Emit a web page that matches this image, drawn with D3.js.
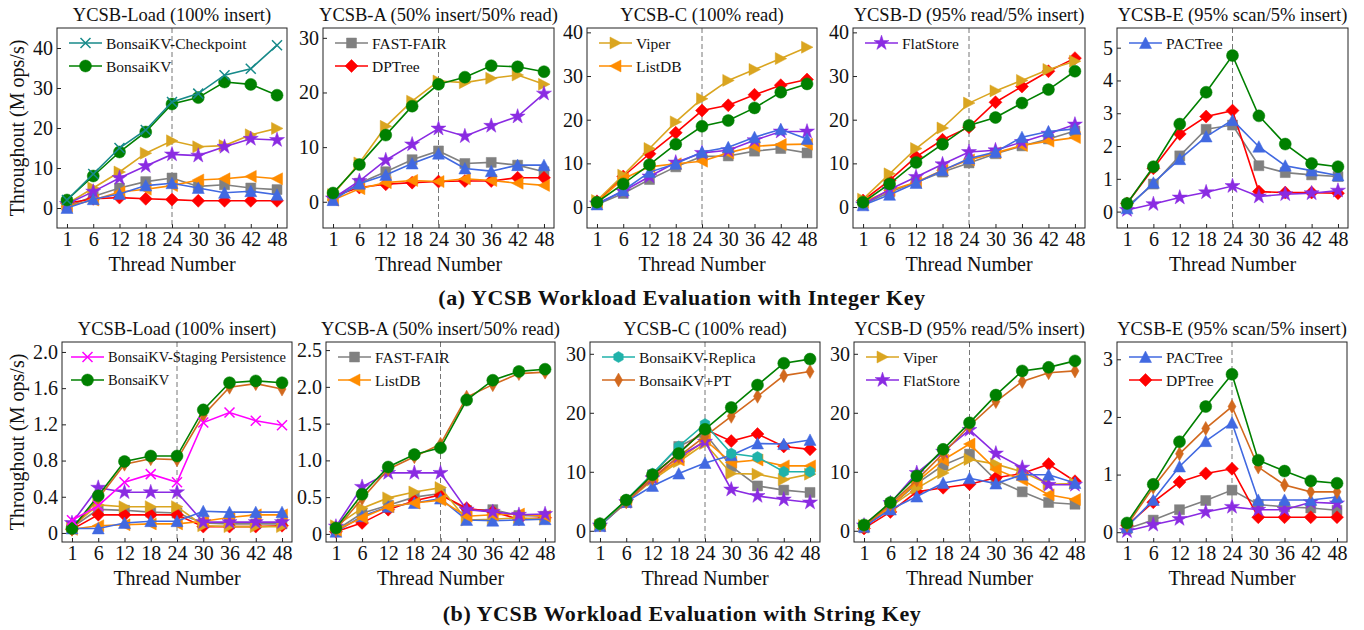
<!DOCTYPE html>
<html>
<head>
<meta charset="utf-8">
<script src="https://cdn.jsdelivr.net/npm/d3@7"></script>
<style>
  body { margin: 0; background: #fff; }
  text { font-family: "Liberation Serif", "Times New Roman", serif; fill: #111; }
</style>
</head>
<body>
<svg id="chart" width="1364" height="630"></svg>
<script>
// thread counts on the x axis
const threads = ["1", "6", "12", "18", "24", "30", "36", "42", "48"];

// (a) integer key, values in M ops/s, listed in drawing order
const intLoad = [
  ["FAST-FAIR", [0.4, 2.9, 5, 6.6, 7.5, 5.4, 5.8, 5, 4.6]],
  ["DPTree", [1.2, 2.3, 2.6, 2.3, 2.1, 1.8, 1.8, 1.8, 1.8]],
  ["Viper", [1, 5, 9, 13.7, 16.8, 15.3, 15.6, 18.3, 19.9]],
  ["ListDB", [0.4, 2, 4, 4.7, 5.6, 7, 7.3, 7.9, 7.3]],
  ["FlatStore", [1, 4.1, 7.5, 10.5, 13.4, 13.1, 15.3, 17.3, 17.0]],
  ["PACTree", [0, 2.2, 3.5, 5.6, 6.2, 5, 3.8, 4.2, 3.3]],
  ["BonsaiKV", [2, 8, 14, 19, 26, 27.6, 31.5, 30.9, 28.2]],
  ["BonsaiKV-Checkpoint", [2, 8.5, 15, 19.5, 26.5, 28.6, 33.2, 34.8, 40.7]]
];
const intA = [
  ["FAST-FAIR", [0.4, 3.4, 5.5, 7.7, 9.3, 7, 7.2, 6.7, 5.5]],
  ["DPTree", [1, 2.6, 3.2, 3.5, 3.7, 3.8, 3.8, 4.4, 4.4]],
  ["Viper", [1.3, 7.1, 13.8, 18.4, 22.1, 21.8, 22.6, 23.2, 21.5]],
  ["ListDB", [0.3, 2.4, 3.5, 3.9, 3.7, 4.2, 3.9, 3.4, 3.0]],
  ["FlatStore", [0.6, 3.8, 7.6, 10.5, 13.4, 12, 13.9, 15.6, 19.8]],
  ["PACTree", [0.3, 3.3, 4.9, 7, 8.8, 6.1, 5.6, 6.7, 6.7]],
  ["BonsaiKV", [1.6, 6.8, 12.2, 17.5, 21.5, 22.8, 24.9, 24.7, 23.8]]
];
const intC = [
  ["FAST-FAIR", [0.6, 3.1, 6.3, 9.2, 11.6, 11.7, 12.8, 13.4, 12.4]],
  ["DPTree", [1.3, 7, 12.2, 17, 22.1, 23.3, 25.7, 27.9, 29.2]],
  ["Viper", [1.5, 7.3, 13.4, 19.5, 24.8, 29, 31.5, 34, 36.6]],
  ["ListDB", [1.1, 6.5, 9.2, 9.9, 10.5, 12.4, 13.9, 14.3, 14.4]],
  ["FlatStore", [0.8, 3.6, 7, 10.2, 12.4, 13, 15.3, 17.3, 17.3]],
  ["PACTree", [0.6, 3.8, 8, 9.9, 12.6, 13.7, 16, 17.8, 15.6]],
  ["BonsaiKV", [1.1, 5.3, 9.7, 14.4, 18.5, 19.8, 22.7, 26.3, 28.2]]
];
const intD = [
  ["FAST-FAIR", [0.6, 3.4, 5.7, 8, 10.1, 12.2, 14, 15.6, 17.4]],
  ["DPTree", [1.5, 6.1, 11.5, 15.4, 18.3, 24, 27.6, 31.1, 34.1]],
  ["Viper", [1.8, 7.6, 13.4, 18.1, 23.8, 26.6, 29, 31.5, 33.4]],
  ["ListDB", [1.1, 3.8, 5.7, 8.4, 10.8, 12.4, 14.1, 15.1, 15.9]],
  ["FlatStore", [0.6, 4, 6.9, 9.8, 12.6, 13, 14.9, 16.8, 18.9]],
  ["PACTree", [0.4, 2.8, 5.5, 8.4, 11.1, 12.6, 16, 17.3, 17.9]],
  ["BonsaiKV", [1.1, 5.3, 10.2, 14.4, 18.7, 20.5, 23.8, 26.9, 31.1]]
];
const intE = [
  ["FAST-FAIR", [0.15, 0.84, 1.7, 2.51, 2.64, 1.4, 1.19, 1.12, 1.07]],
  ["DPTree", [0.25, 1.32, 2.37, 2.9, 3.08, 0.61, 0.58, 0.58, 0.56]],
  ["FlatStore", [0.05, 0.23, 0.43, 0.59, 0.78, 0.46, 0.53, 0.56, 0.64]],
  ["PACTree", [0.1, 0.88, 1.6, 2.29, 2.79, 1.98, 1.4, 1.25, 1.1]],
  ["BonsaiKV", [0.25, 1.37, 2.67, 3.64, 4.76, 2.92, 2.06, 1.47, 1.37]]
];

// (b) string key
const strLoad = [
  ["FAST-FAIR", [0.06, 0.26, 0.25, 0.23, 0.22, 0.11, 0.1, 0.1, 0.1]],
  ["DPTree", [0.04, 0.2, 0.2, 0.2, 0.2, 0.07, 0.07, 0.07, 0.08]],
  ["Viper", [0.07, 0.31, 0.29, 0.29, 0.29, 0.08, 0.07, 0.07, 0.07]],
  ["ListDB", [0.04, 0.08, 0.09, 0.1, 0.1, 0.13, 0.17, 0.2, 0.2]],
  ["FlatStore", [0.11, 0.5, 0.45, 0.45, 0.45, 0.12, 0.12, 0.12, 0.12]],
  ["PACTree", [0.05, 0.05, 0.11, 0.13, 0.13, 0.24, 0.23, 0.23, 0.23]],
  ["BonsaiKV+PT", [0.04, 0.38, 0.76, 0.82, 0.81, 1.3, 1.61, 1.65, 1.59]],
  ["BonsaiKV", [0.05, 0.41, 0.79, 0.85, 0.85, 1.36, 1.66, 1.68, 1.66]],
  ["BonsaiKV-Staging Persistence", [0.14, 0.3, 0.56, 0.65, 0.56, 1.22, 1.33, 1.24, 1.19]]
];
const strA = [
  ["FAST-FAIR", [0.05, 0.28, 0.39, 0.5, 0.55, 0.32, 0.33, 0.25, 0.24]],
  ["DPTree", [0.03, 0.15, 0.33, 0.45, 0.53, 0.35, 0.3, 0.2, 0.22]],
  ["Viper", [0.11, 0.35, 0.49, 0.57, 0.63, 0.19, 0.2, 0.22, 0.2]],
  ["PACTree", [0.03, 0.24, 0.37, 0.42, 0.48, 0.19, 0.18, 0.19, 0.2]],
  ["ListDB", [0.05, 0.22, 0.37, 0.42, 0.46, 0.24, 0.26, 0.27, 0.24]],
  ["FlatStore", [0.1, 0.64, 0.83, 0.83, 0.83, 0.33, 0.3, 0.26, 0.27]],
  ["BonsaiKV+PT", [0.06, 0.48, 0.88, 1.05, 1.22, 1.86, 2.03, 2.18, 2.2]],
  ["BonsaiKV", [0.08, 0.54, 0.91, 1.08, 1.17, 1.82, 2.09, 2.21, 2.24]]
];
const strC = [
  ["FAST-FAIR", [0.9, 4.8, 9.5, 14.3, 16.5, 10.9, 7.6, 6.9, 6.5]],
  ["DPTree", [1, 5.1, 9.3, 13.2, 17.2, 15.2, 16.4, 14.3, 13.8]],
  ["Viper", [0.9, 4.8, 8.6, 11.7, 14.8, 9.7, 9.6, 8.7, 9.6]],
  ["ListDB", [0.9, 4.9, 8.9, 12, 15.4, 11.6, 12, 11, 11]],
  ["FlatStore", [0.9, 4.9, 8.9, 12.6, 15.1, 7, 5.9, 5.3, 4.8]],
  ["PACTree", [0.8, 4.9, 7.6, 9.7, 11.5, 12.8, 14.8, 14.7, 15.4]],
  ["BonsaiKV+PT", [1, 4.9, 8.9, 12.6, 16, 19.4, 22.8, 26.3, 27]],
  ["BonsaiKV-Replica", [1, 5.2, 9.7, 14.3, 18.1, 13.1, 12.5, 10, 10]],
  ["BonsaiKV", [1.2, 5.2, 9.5, 13.1, 17.2, 20.9, 24.7, 28.4, 29.1]]
];
const strD = [
  ["FAST-FAIR", [0.5, 4.1, 8, 11.1, 13, 8.6, 6.6, 4.8, 4.5]],
  ["DPTree", [0.4, 3.2, 6.6, 7.3, 7.9, 9, 9.7, 11.3, 8.4]],
  ["Viper", [0.9, 4.1, 7.2, 9.8, 12.1, 11.3, 10, 7.9, 8]],
  ["ListDB", [0.9, 4.1, 8.3, 12, 14.7, 10.4, 8.6, 6.1, 5.3]],
  ["FlatStore", [0.9, 4.7, 9.8, 13.4, 17.1, 13.1, 10.7, 7.8, 7.8]],
  ["PACTree", [0.7, 3.6, 5.8, 8.1, 8.9, 8, 9.5, 9.5, 8.1]],
  ["BonsaiKV+PT", [0.8, 4.5, 8.6, 13.1, 17.8, 21.9, 25.3, 26.8, 27.1]],
  ["BonsaiKV", [1, 4.8, 9.3, 13.8, 18.3, 23, 27.1, 27.7, 28.8]]
];
const strE = [
  ["FAST-FAIR", [0.06, 0.21, 0.39, 0.55, 0.73, 0.48, 0.44, 0.42, 0.38]],
  ["DPTree", [0.12, 0.52, 0.87, 1.02, 1.1, 0.26, 0.26, 0.26, 0.26]],
  ["FlatStore", [0.02, 0.13, 0.23, 0.35, 0.44, 0.39, 0.39, 0.52, 0.5]],
  ["PACTree", [0.09, 0.56, 1.14, 1.58, 1.9, 0.56, 0.56, 0.56, 0.61]],
  ["BonsaiKV+PT", [0.12, 0.78, 1.36, 1.8, 2.18, 1.13, 0.82, 0.7, 0.7]],
  ["BonsaiKV", [0.16, 0.83, 1.57, 2.18, 2.74, 1.25, 1.06, 0.89, 0.85]]
];

const styles = {
  "BonsaiKV-Checkpoint": { color: "#178a8a", marker: "x" },
  "BonsaiKV-Staging Persistence": { color: "#ff00ff", marker: "x" },
  "BonsaiKV-Replica": { color: "#20b2aa", marker: "hex" },
  "BonsaiKV+PT": { color: "#d2691e", marker: "thin" },
  "BonsaiKV": { color: "#008000", marker: "circle" },
  "FAST-FAIR": { color: "#808080", marker: "square" },
  "DPTree": { color: "#ff0000", marker: "diamond" },
  "Viper": { color: "#daa520", marker: "right" },
  "ListDB": { color: "#ff8c00", marker: "left" },
  "FlatStore": { color: "#8a2be2", marker: "star" },
  "PACTree": { color: "#4169e1", marker: "up" }
};

const fmtInt = d => String(d);
const fmtDec = d => d === 0 ? "0" : d.toFixed(1);

const panels = [
  { left: 57, top: 28, w: 230, h: 200, title: "YCSB-Load (100% insert)", data: intLoad,
    legend: ["BonsaiKV-Checkpoint", "BonsaiKV"], y: [-5, 45], ticks: [0, 10, 20, 30, 40], fmt: fmtInt, ylabel: true },
  { left: 323, top: 28, w: 231, h: 200, title: "YCSB-A (50% insert/50% read)", data: intA,
    legend: ["FAST-FAIR", "DPTree"], y: [-4.8, 31.8], ticks: [0, 10, 20, 30], fmt: fmtInt },
  { left: 587, top: 28, w: 230, h: 200, title: "YCSB-C (100% read)", data: intC,
    legend: ["Viper", "ListDB"], y: [-4.8, 41], ticks: [0, 10, 20, 30, 40], fmt: fmtInt },
  { left: 853, top: 28, w: 232, h: 200, title: "YCSB-D (95% read/5% insert)", data: intD,
    legend: ["FlatStore"], y: [-4.8, 41], ticks: [0, 10, 20, 30, 40], fmt: fmtInt },
  { left: 1117, top: 28, w: 231, h: 200, title: "YCSB-E (95% scan/5% insert)", data: intE,
    legend: ["PACTree"], y: [-0.5, 5.6], ticks: [0, 1, 2, 3, 4, 5], fmt: fmtInt },
  { left: 62, top: 342, w: 230, h: 200, title: "YCSB-Load (100% insert)", data: strLoad,
    legend: ["BonsaiKV-Staging Persistence", "BonsaiKV"], legendX: 9, legendFont: 14.5,
    y: [-0.1, 2.11], ticks: [0, 0.4, 0.8, 1.2, 1.6, 2.0], fmt: fmtDec, ylabel: true },
  { left: 326, top: 342, w: 229, h: 200, title: "YCSB-A (50% insert/50% read)", data: strA,
    legend: ["FAST-FAIR", "ListDB"], y: [-0.11, 2.61], ticks: [0, 0.5, 1.0, 1.5, 2.0, 2.5], fmt: fmtDec },
  { left: 590, top: 342, w: 230, h: 200, title: "YCSB-C (100% read)", data: strC,
    legend: ["BonsaiKV-Replica", "BonsaiKV+PT"], y: [-1.9, 32], ticks: [0, 10, 20, 30], fmt: fmtInt },
  { left: 854, top: 342, w: 231, h: 200, title: "YCSB-D (95% read/5% insert)", data: strD,
    legend: ["Viper", "FlatStore"], y: [-1.9, 32], ticks: [0, 10, 20, 30], fmt: fmtInt },
  { left: 1117, top: 342, w: 230, h: 200, title: "YCSB-E (95% scan/5% insert)", data: strE,
    legend: ["PACTree", "DPTree"], y: [-0.17, 3.3], ticks: [0, 1, 2, 3], fmt: fmtInt }
];

const captions = [
  { text: "(a) YCSB Workload Evaluation with Integer Key", y: 305 },
  { text: "(b) YCSB Workload Evaluation with String Key", y: 621 }
];

// marker shapes centred on 0,0
function markerPath(type) {
  switch (type) {
    case "circle": return d3.symbol(d3.symbolCircle, Math.PI * 6 * 6)();
    case "square": return "M-5,-5H5V5H-5Z";
    case "diamond": return "M0,-6.5L6.5,0L0,6.5L-6.5,0Z";
    case "thin": return "M0,-7L4,0L0,7L-4,0Z";
    case "up": return "M0,-6L6,5.5L-6,5.5Z";
    case "right": return "M6,0L-5.5,-6L-5.5,6Z";
    case "left": return "M-6,0L5.5,-6L5.5,6Z";
    case "star": return d3.symbol(d3.symbolStar, 70)();
    case "x": return "M-5,-5L5,5M-5,5L5,-5";
    case "hex": {
      let p = [];
      for (let k = 0; k < 6; k++) {
        const a = Math.PI / 3 * k - Math.PI / 2;
        p.push([5.5 * Math.cos(a), 5.5 * Math.sin(a)]);
      }
      return "M" + p.map(q => q.join(",")).join("L") + "Z";
    }
  }
}

function drawMarker(g, name, px, py) {
  const s = styles[name];
  const m = g.append("path")
    .attr("d", markerPath(s.marker))
    .attr("transform", `translate(${px},${py})`);
  if (s.marker === "x") {
    m.attr("fill", "none").attr("stroke", s.color).attr("stroke-width", 1.5);
  } else {
    m.attr("fill", s.color).attr("stroke", s.color).attr("stroke-width", 0.5);
  }
}

const svg = d3.select("#chart");

panels.forEach(p => {
  const g = svg.append("g").attr("transform", `translate(${p.left},${p.top})`);

  const x = d3.scalePoint().domain(threads).range([0, p.w]).padding(0.38);
  const y = d3.scaleLinear().domain(p.y).range([p.h, 0]);

  // axes, ticks pointing in
  const xa = g.append("g")
    .attr("transform", `translate(0,${p.h})`)
    .call(d3.axisBottom(x).tickSize(-4).tickPadding(4));
  const ya = g.append("g")
    .call(d3.axisLeft(y).tickValues(p.ticks).tickFormat(p.fmt).tickSize(-4).tickPadding(4));
  [xa, ya].forEach(a => {
    a.select(".domain").remove();
    a.selectAll("text").style("font-size", "20px").attr("fill", "#111");
    a.selectAll("line").attr("stroke", "#222");
  });

  // dashed marker at 24 threads
  g.append("line")
    .attr("x1", x("24")).attr("x2", x("24"))
    .attr("y1", 0).attr("y2", p.h)
    .attr("stroke", "#777").attr("stroke-width", 1)
    .attr("stroke-dasharray", "5,3");

  const line = d3.line()
    .x((d, i) => x(threads[i]))
    .y(d => y(d));

  p.data.forEach(([name, vals]) => {
    const s = styles[name];
    g.append("path")
      .attr("d", line(vals))
      .attr("fill", "none")
      .attr("stroke", s.color)
      .attr("stroke-width", 1.6);
    vals.forEach((v, i) => drawMarker(g, name, x(threads[i]), y(v)));
  });

  // frame
  g.append("rect")
    .attr("width", p.w).attr("height", p.h)
    .attr("fill", "none").attr("stroke", "#222").attr("stroke-width", 1);

  // legend
  const lx = p.legendX !== undefined ? p.legendX : 12;
  p.legend.forEach((name, i) => {
    const ly = 15 + i * 23;
    g.append("line")
      .attr("x1", lx).attr("x2", lx + 33).attr("y1", ly).attr("y2", ly)
      .attr("stroke", styles[name].color).attr("stroke-width", 1.6);
    drawMarker(g, name, lx + 16.5, ly);
    g.append("text")
      .attr("x", lx + 37).attr("y", ly)
      .attr("dominant-baseline", "central")
      .style("font-size", (p.legendFont || 15.5) + "px")
      .text(name);
  });

  // title and x label
  g.append("text")
    .attr("x", p.w / 2).attr("y", -7)
    .attr("text-anchor", "middle")
    .style("font-size", "18.5px")
    .text(p.title);
  g.append("text")
    .attr("x", p.w / 2).attr("y", p.h + 43)
    .attr("text-anchor", "middle")
    .style("font-size", "20px")
    .text("Thread Number");

  if (p.ylabel) {
    svg.append("text")
      .attr("transform", `translate(17,${p.top + p.h / 2}) rotate(-90)`)
      .attr("text-anchor", "middle")
      .attr("dominant-baseline", "central")
      .style("font-size", "20px")
      .text("Throughout (M ops/s)");
  }
});

captions.forEach(c => {
  svg.append("text")
    .attr("x", 682).attr("y", c.y)
    .attr("text-anchor", "middle")
    .style("font-size", "22px")
    .style("letter-spacing", "0.6px")
    .style("font-weight", "bold")
    .text(c.text);
});
</script>
</body>
</html>
